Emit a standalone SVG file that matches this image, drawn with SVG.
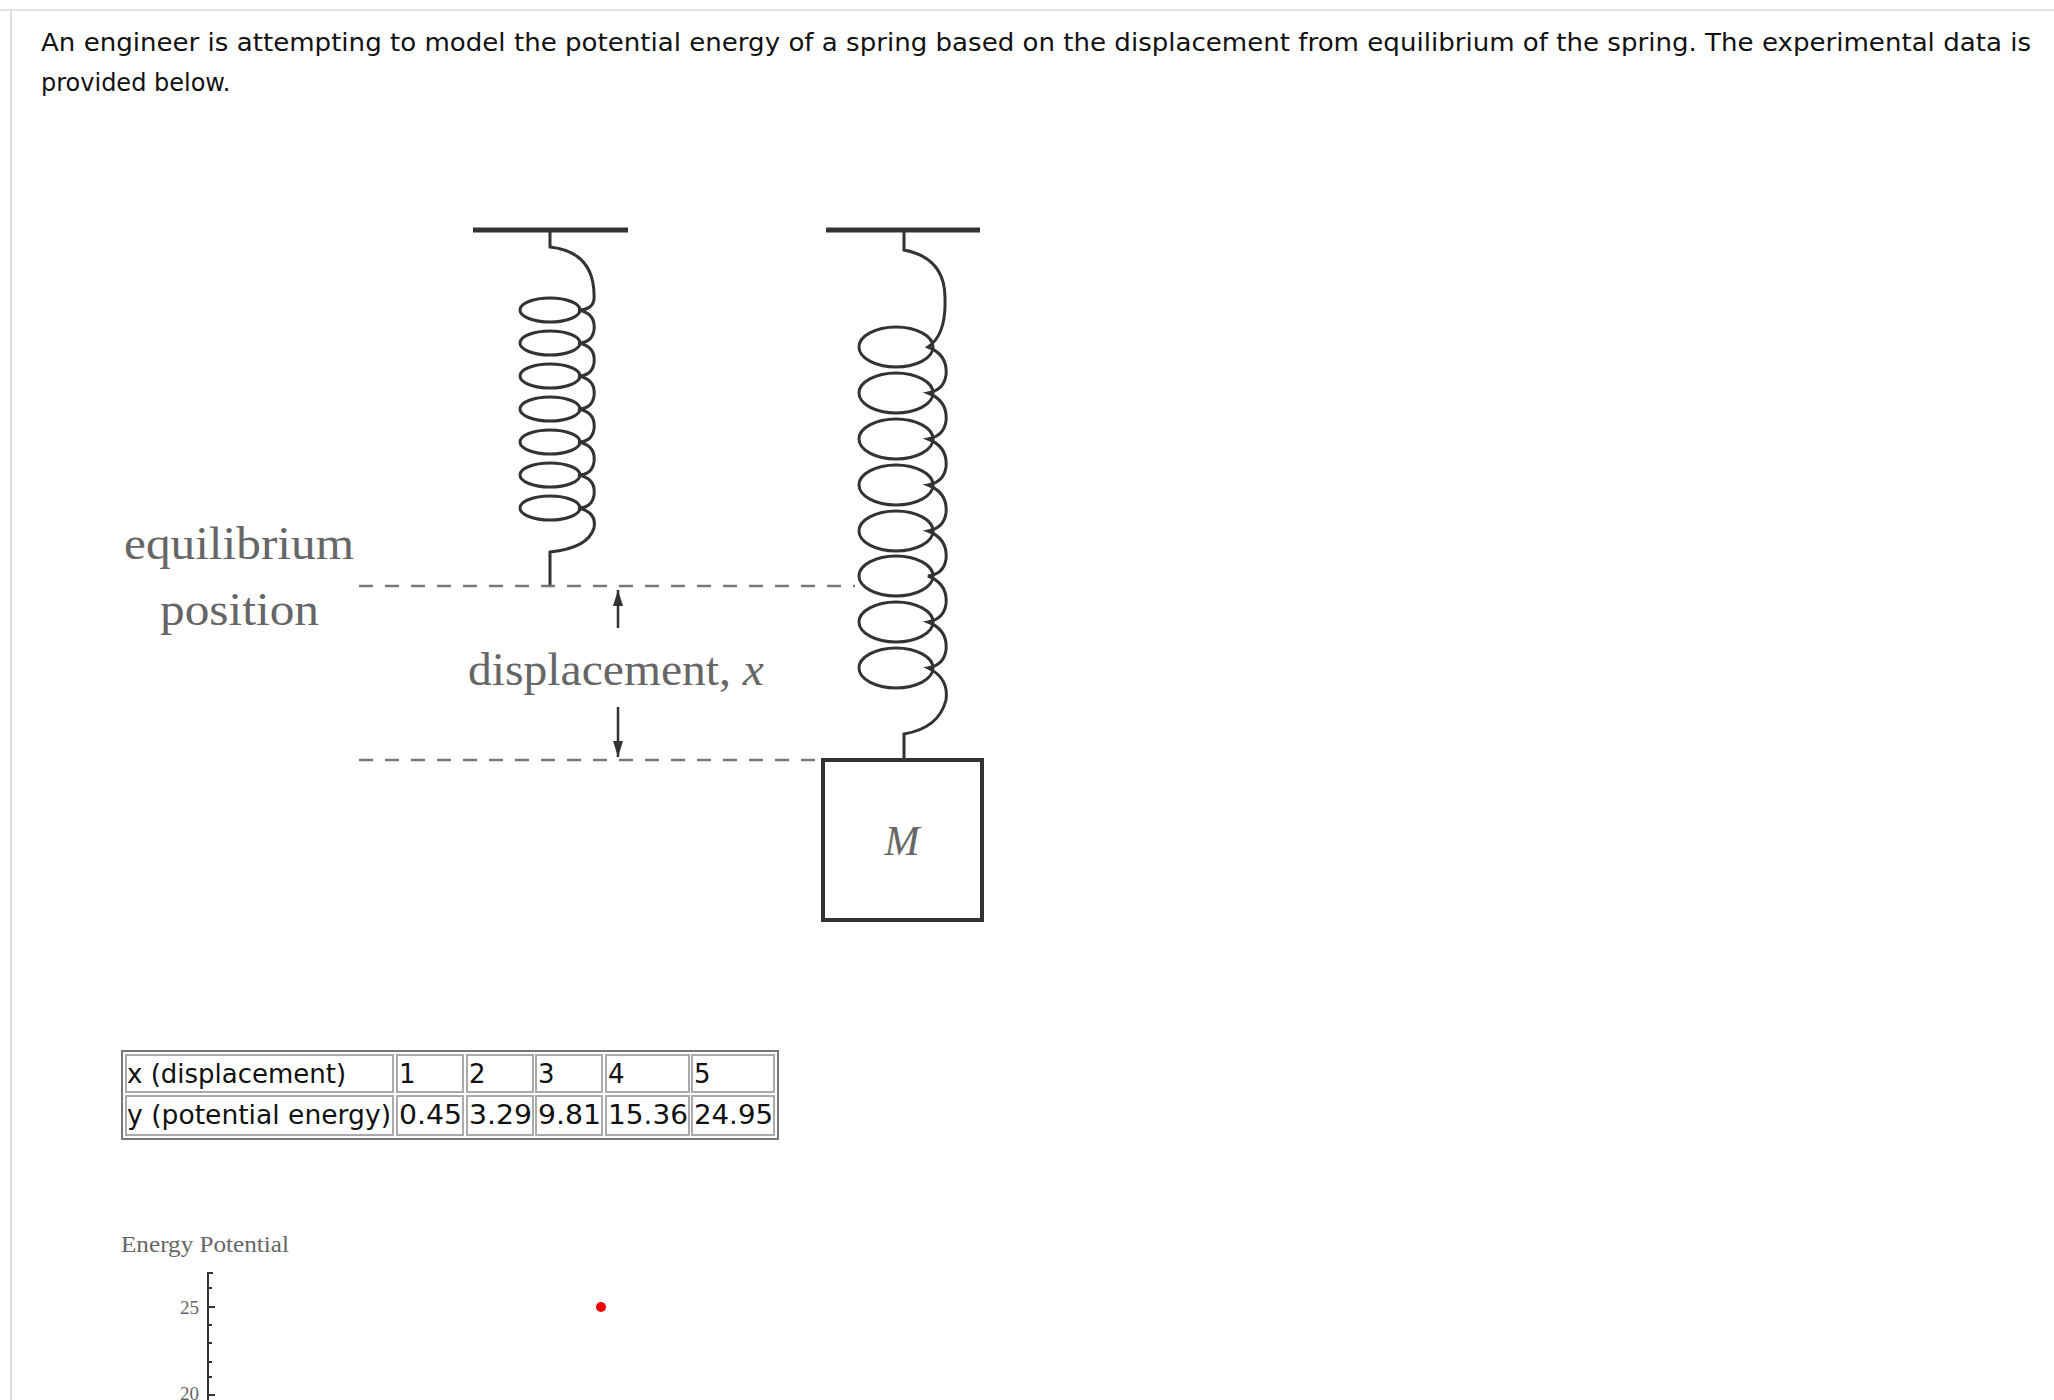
<svg xmlns="http://www.w3.org/2000/svg" width="2054" height="1400" viewBox="0 0 2054 1400">
<style>
.q{font-family:"DejaVu Sans",Verdana,sans-serif;font-size:24px;fill:#111}
.s{font-family:"Liberation Serif","DejaVu Serif",serif;fill:#666}
.c{font-family:"DejaVu Sans",Verdana,sans-serif;font-size:26px;fill:#111}
.ln{stroke:#333;fill:none;stroke-width:3}
.coil{stroke:#333;fill:none;stroke-width:3}
.dash{stroke:#777;stroke-width:2.5;stroke-dasharray:14 12}
.cell{fill:#fff;stroke:#aaa;stroke-width:2}
.ax{stroke:#333;stroke-width:2;fill:none}
</style>
<defs>
<marker id="ah" viewBox="0 0 16 10" refX="16" refY="5" markerWidth="16" markerHeight="10" orient="auto" markerUnits="userSpaceOnUse"><path d="M0,0 L16,5 L0,10 Z" fill="#333"/></marker>
</defs>
<rect width="2054" height="1400" fill="#fff"/>
<line x1="0" y1="10" x2="2054" y2="10" stroke="#e3e3e3" stroke-width="2"/>
<line x1="11" y1="10" x2="11" y2="1400" stroke="#ddd" stroke-width="2"/>
<g id="question">
<text class="q" x="41" y="51" textLength="1990" lengthAdjust="spacingAndGlyphs">An engineer is attempting to model the potential energy of a spring based on the displacement from equilibrium of the spring. The experimental data is</text>
<text class="q" x="41" y="91">provided below.</text>
</g>
<g id="spring1">
<line x1="473" y1="230" x2="628" y2="230" stroke="#333" stroke-width="5"/>
<path class="ln" d="M550,230 V247 Q596,252 594,300"/>
<g class="coil">
<ellipse cx="550" cy="310" rx="30" ry="12"/><ellipse cx="550" cy="343" rx="30" ry="12"/><ellipse cx="550" cy="376" rx="30" ry="12"/><ellipse cx="550" cy="409" rx="30" ry="12"/><ellipse cx="550" cy="442" rx="30" ry="12"/><ellipse cx="550" cy="475" rx="30" ry="12"/><ellipse cx="550" cy="508" rx="30" ry="12"/>
</g>
<path class="ln" d="M594,300 Q592,310 578,310 Q596,313 594,330 Q592,343 578,343 Q596,346 594,363 Q592,376 578,376 Q596,379 594,396 Q592,409 578,409 Q596,412 594,429 Q592,442 578,442 Q596,445 594,462 Q592,475 578,475 Q596,478 594,495 Q592,508 578,508 Q597,512 594,528 Q588,548 550,552 V586"/>
</g>
<g id="spring2">
<line x1="826" y1="230" x2="980" y2="230" stroke="#333" stroke-width="5"/>
<path class="ln" d="M904,230 V250 Q946,258 945,300"/>
<g class="coil">
<ellipse cx="896" cy="347" rx="37" ry="20"/><ellipse cx="896" cy="393" rx="37" ry="20"/><ellipse cx="896" cy="439" rx="37" ry="20"/><ellipse cx="896" cy="485" rx="37" ry="20"/><ellipse cx="896" cy="531" rx="37" ry="20"/><ellipse cx="896" cy="576" rx="37" ry="20"/><ellipse cx="896" cy="622" rx="37" ry="20"/><ellipse cx="896" cy="668" rx="37" ry="20"/>
</g>
<path class="ln" d="M945,300 Q946,335 928,347 Q948,355 946,375 Q944,390 928,393 Q948,401 946,421 Q944,436 928,439 Q948,447 946,467 Q944,482 928,485 Q948,493 946,513 Q944,528 928,531 Q948,539 946,559 Q944,574 928,576 Q948,584 946,604 Q944,619 928,622 Q948,630 946,650 Q944,665 928,668 Q949,678 946,700 Q939,728 904,734 V760"/>
</g>
<g id="mass">
<rect x="823" y="760" width="159" height="160" fill="#fff" stroke="#333" stroke-width="4"/>
<text class="s" x="902" y="855" font-size="42" font-style="italic" text-anchor="middle" fill="#444">M</text>
</g>
<g id="labels">
<text class="s" x="124" y="559" font-size="46" textLength="230" lengthAdjust="spacingAndGlyphs">equilibrium</text>
<text class="s" x="160" y="625" font-size="46" textLength="159" lengthAdjust="spacingAndGlyphs">position</text>
<text class="s" x="468" y="685" font-size="46" textLength="296" lengthAdjust="spacingAndGlyphs">displacement, <tspan font-style="italic">x</tspan></text>
</g>
<g id="connectors">
<line class="dash" x1="359" y1="586" x2="855" y2="586"/>
<line class="dash" x1="359" y1="760" x2="820" y2="760" stroke="#aaa"/>
<line x1="618" y1="628" x2="618" y2="590" stroke="#333" stroke-width="2.5" marker-end="url(#ah)"/>
<line x1="618" y1="707" x2="618" y2="757" stroke="#333" stroke-width="2.5" marker-end="url(#ah)"/>
</g>
<g id="table">
<rect x="122" y="1051" width="656" height="88" fill="#fff" stroke="#777" stroke-width="2"/>
<rect class="cell" x="126" y="1055" width="267" height="37"/><rect class="cell" x="397" y="1055" width="66" height="37"/><rect class="cell" x="467" y="1055" width="66" height="37"/><rect class="cell" x="536" y="1055" width="66" height="37"/><rect class="cell" x="606" y="1055" width="83" height="37"/><rect class="cell" x="692" y="1055" width="82" height="37"/>
<rect class="cell" x="126" y="1096" width="267" height="39"/><rect class="cell" x="397" y="1096" width="66" height="39"/><rect class="cell" x="467" y="1096" width="66" height="39"/><rect class="cell" x="536" y="1096" width="66" height="39"/><rect class="cell" x="606" y="1096" width="83" height="39"/><rect class="cell" x="692" y="1096" width="82" height="39"/>
<text class="c" x="127" y="1083">x (displacement)</text>
<text class="c" x="399" y="1083">1</text><text class="c" x="469" y="1083">2</text><text class="c" x="538" y="1083">3</text><text class="c" x="608" y="1083">4</text><text class="c" x="694" y="1083">5</text>
<text class="c" x="127" y="1124" textLength="264" lengthAdjust="spacingAndGlyphs">y (potential energy)</text>
<text class="c" x="399" y="1124" textLength="63" lengthAdjust="spacingAndGlyphs">0.45</text><text class="c" x="469" y="1124" textLength="63" lengthAdjust="spacingAndGlyphs">3.29</text><text class="c" x="538" y="1124" textLength="63" lengthAdjust="spacingAndGlyphs">9.81</text><text class="c" x="608" y="1124" textLength="80" lengthAdjust="spacingAndGlyphs">15.36</text><text class="c" x="694" y="1124" textLength="79" lengthAdjust="spacingAndGlyphs">24.95</text>
</g>
<g id="chart">
<text class="s" x="121" y="1252" font-size="23" fill="#333" textLength="168" lengthAdjust="spacingAndGlyphs">Energy Potential</text>
<path class="ax" d="M213,1273 H208 V1400"/>
<path class="ax" d="M208,1288 h4 M208,1307 h7 M208,1325 h4 M208,1343 h4 M208,1362 h4 M208,1377 h4 M208,1395 h7"/>
<text class="s" x="199" y="1314" font-size="19" fill="#555" text-anchor="end">25</text>
<text class="s" x="199" y="1400" font-size="19" fill="#555" text-anchor="end">20</text>
<circle cx="601" cy="1307" r="5" fill="#e00"/>
</g>
</svg>
